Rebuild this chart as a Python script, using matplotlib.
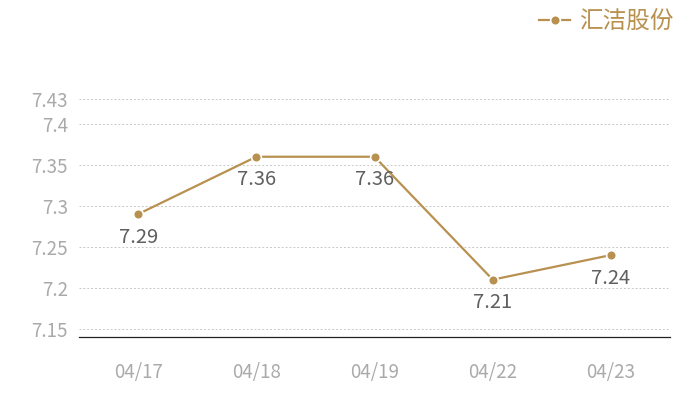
import matplotlib
matplotlib.use("Agg")
import matplotlib.pyplot as plt

plt.rcParams['font.family'] = ['Noto Sans CJK SC', 'DejaVu Sans']

dates = ["04/17", "04/18", "04/19", "04/22", "04/23"]
prices = [7.29, 7.36, 7.36, 7.21, 7.24]
yticks = [7.15, 7.2, 7.25, 7.3, 7.35, 7.4, 7.43]
ytick_labels = ["7.15", "7.2", "7.25", "7.3", "7.35", "7.4", "7.43"]
series_name = "汇洁股份"

gold = "#b8904f"

fig = plt.figure(figsize=(7, 4), dpi=100)
ax = fig.add_axes([0.1129, 0.1575, 0.8443, 0.594])

x = list(range(len(dates)))
ax.plot(x, prices, color=gold, lw=1.6, marker="o", ms=7,
        markerfacecolor=gold, markeredgecolor="white", markeredgewidth=1.2,
        label=series_name, zorder=3)

for xi, v in zip(x, prices):
    ax.annotate(f"{v:g}", (xi, v), xytext=(0, -9), textcoords="offset points",
                ha="center", va="top", fontsize=14.5, color="#5f5f5f")

ax.set_xlim(-0.5, len(dates) - 0.5)
ax.set_ylim(7.14, 7.43)
ax.set_xticks(x)
ax.set_xticklabels(dates)
ax.set_yticks(yticks)
ax.set_yticklabels(ytick_labels)
ax.tick_params(axis="both", length=0, labelsize=13.5, labelcolor="#aaaaaa")
ax.tick_params(axis="x", pad=18)
ax.tick_params(axis="y", pad=8)
ax.grid(axis="y", color="#c8c8c8", ls=(0, (2, 2)), lw=0.7)
ax.set_axisbelow(True)
for s in ["top", "right", "left"]:
    ax.spines[s].set_visible(False)
ax.spines["bottom"].set_color("#222222")
ax.spines["bottom"].set_linewidth(0.9)

fig.legend(loc="upper right", bbox_to_anchor=(0.993, 1.028), frameon=False,
           fontsize=17, labelcolor=gold, handlelength=1.3, handletextpad=0.4)

fig.savefig("out.png", dpi=100)
